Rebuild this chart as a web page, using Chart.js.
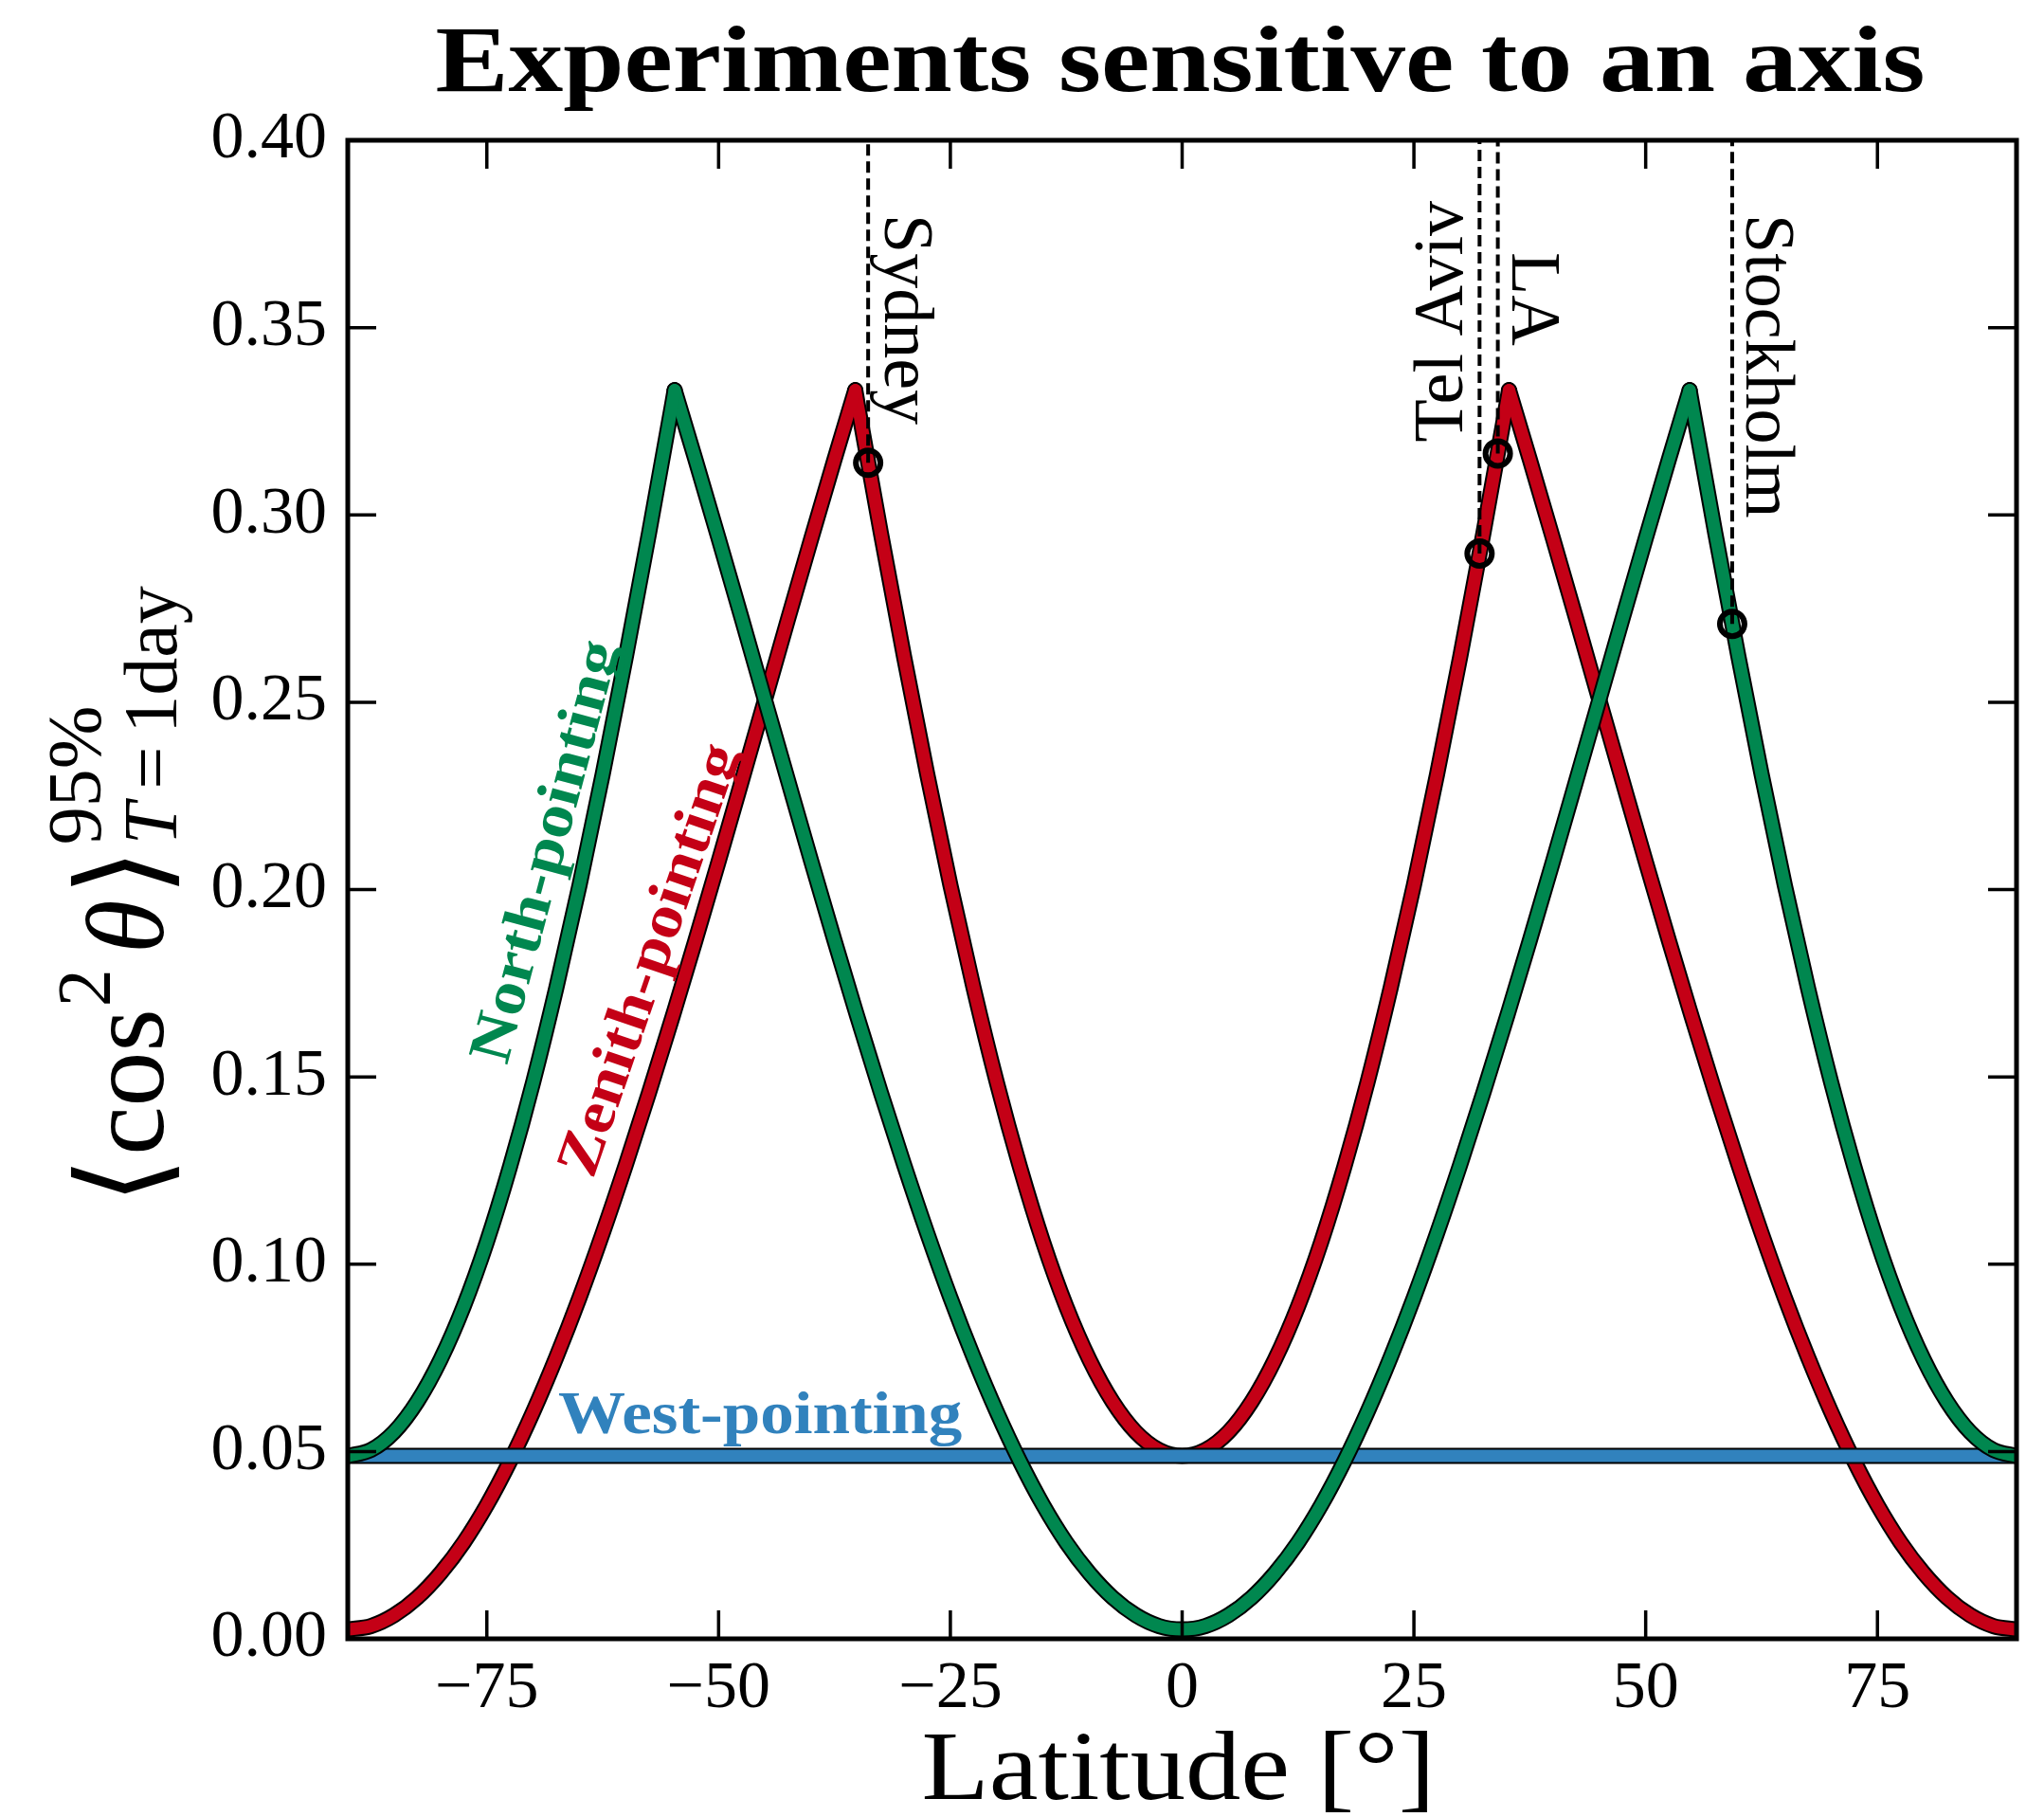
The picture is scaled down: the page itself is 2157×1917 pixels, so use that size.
<!DOCTYPE html>
<html>
<head>
<meta charset="utf-8">
<script src="https://cdn.jsdelivr.net/npm/chart.js@4.4.1/dist/chart.umd.min.js"></script>
<style>
html,body{margin:0;padding:0;background:#ffffff;}
#wrap{width:2157px;height:1917px;position:relative;}
canvas{display:block;}
</style>
</head>
<body>
<div id="wrap"><canvas id="c" width="2157" height="1917"></canvas></div>
<script>
// ---------------- data ----------------
const latitudes = [
  -90, -87.5, -85, -82.5, -80, -77.5, -75, -72.5, -70, -67.5, -65, -62.5, -60, -57.5, -55,
  -54.74,
  -52.5, -50, -47.5, -45, -42.5, -40, -37.5,
  -35.26,
  -35, -32.5, -30, -27.5, -25, -22.5, -20, -17.5, -15, -12.5, -10, -7.5, -5, -2.5, 0,
  2.5, 5, 7.5, 10, 12.5, 15, 17.5, 20, 22.5, 25, 27.5, 30, 32.5, 35,
  35.26,
  37.5, 40, 42.5, 45, 47.5, 50, 52.5,
  54.74,
  55, 57.5, 60, 62.5, 65, 67.5, 70, 72.5, 75, 77.5, 80, 82.5, 85, 87.5, 90
];
const zenithValues = [
  0.0025, 0.0034, 0.0063, 0.0110, 0.0175, 0.0257, 0.0357, 0.0474, 0.0606, 0.0752, 0.0911, 0.1083, 0.1266, 0.1458, 0.1658,
  0.1679,
  0.1864, 0.2075, 0.2290, 0.2506, 0.2723, 0.2937, 0.3148,
  0.3333,
  0.3296, 0.2952, 0.2622, 0.2308, 0.2012, 0.1738, 0.1486, 0.1260, 0.1059, 0.0887, 0.0745, 0.0633, 0.0552, 0.0504, 0.0488,
  0.0504, 0.0552, 0.0633, 0.0745, 0.0887, 0.1059, 0.1260, 0.1486, 0.1738, 0.2012, 0.2308, 0.2622, 0.2952, 0.3296,
  0.3333,
  0.3148, 0.2937, 0.2723, 0.2506, 0.2290, 0.2075, 0.1864,
  0.1679,
  0.1658, 0.1458, 0.1266, 0.1083, 0.0911, 0.0752, 0.0606, 0.0474, 0.0357, 0.0257, 0.0175, 0.0110, 0.0063, 0.0034, 0.0025
];
const northValues = [
  0.0488, 0.0504, 0.0552, 0.0633, 0.0745, 0.0887, 0.1059, 0.1260, 0.1486, 0.1738, 0.2012, 0.2308, 0.2622, 0.2952, 0.3296,
  0.3333,
  0.3148, 0.2937, 0.2723, 0.2506, 0.2290, 0.2075, 0.1864,
  0.1679,
  0.1658, 0.1458, 0.1266, 0.1083, 0.0911, 0.0752, 0.0606, 0.0474, 0.0357, 0.0257, 0.0175, 0.0110, 0.0063, 0.0034, 0.0025,
  0.0034, 0.0063, 0.0110, 0.0175, 0.0257, 0.0357, 0.0474, 0.0606, 0.0752, 0.0911, 0.1083, 0.1266, 0.1458, 0.1658,
  0.1679,
  0.1864, 0.2075, 0.2290, 0.2506, 0.2723, 0.2937, 0.3148,
  0.3333,
  0.3296, 0.2952, 0.2622, 0.2308, 0.2012, 0.1738, 0.1486, 0.1260, 0.1059, 0.0887, 0.0745, 0.0633, 0.0552, 0.0504, 0.0488
];
const westLatitudes = [-90, 90];
const westValues = [0.0488, 0.0488];

const cityNames = ['Sydney', 'Tel Aviv', 'LA', 'Stockholm'];
const cityLatitudes = [-33.87, 32.08, 34.05, 59.33];
const cityValues = [0.3139, 0.2897, 0.3164, 0.2709];
const cityLineTop = 0.40;

const xTicks = [-75, -50, -25, 0, 25, 50, 75];
const xTickLabels = ['\u221275', '\u221250', '\u221225', '0', '25', '50', '75'];
const yTicks = [0, 0.05, 0.10, 0.15, 0.20, 0.25, 0.30, 0.35, 0.40];
const yTickLabels = ['0.00', '0.05', '0.10', '0.15', '0.20', '0.25', '0.30', '0.35', '0.40'];

const titleText = 'Experiments sensitive to an axis';
const xTitleText = 'Latitude [\u00b0]';
const seriesNames = ['North-pointing', 'Zenith-pointing', 'West-pointing'];

// ---------------- styles ----------------
const GREEN = '#00874f';
const RED = '#c40016';
const BLUE = '#3182bd';
const SERIF = '"Liberation Serif", "DejaVu Serif", serif';

function pts(xs, ys) { return xs.map((x, i) => ({ x: x, y: ys[i] })); }

// split a curve at its sharp maxima so the smooth interpolation keeps the cusps
function splitAtPeaks(xs, ys) {
  const pieces = [];
  let start = 0;
  for (let i = 1; i < ys.length - 1; i++) {
    if (ys[i] > ys[i - 1] && ys[i] > ys[i + 1]) {
      pieces.push(pts(xs.slice(start, i + 1), ys.slice(start, i + 1)));
      start = i;
    }
  }
  pieces.push(pts(xs.slice(start), ys.slice(start)));
  return pieces;
}

function curveSets(name, xs, ys, color, orderTop) {
  const common = { showLine: true, pointRadius: 0, pointHoverRadius: 0,
                   cubicInterpolationMode: 'monotone',
                   borderJoinStyle: 'round', borderCapStyle: 'round', clip: 0, fill: false };
  const out = [];
  splitAtPeaks(xs, ys).forEach((p, k) => {
    out.push(Object.assign({ label: k === 0 ? name : name + ' (' + k + ')', data: p, borderColor: color,
                             backgroundColor: color, borderWidth: 13, order: orderTop }, common));
    out.push(Object.assign({ label: name + ' outline ' + k, data: p, borderColor: '#000000',
                             backgroundColor: '#000000', borderWidth: 17, order: orderTop + 1 }, common));
  });
  return out;
}

const datasets = [];
datasets.push({
  label: 'cities', data: pts(cityLatitudes, cityValues), showLine: false,
  pointRadius: 13, pointHoverRadius: 13, pointBorderWidth: 6, pointBorderColor: '#000000',
  pointBackgroundColor: 'rgba(0,0,0,0)', order: 0, clip: false
});
cityNames.forEach((n, i) => {
  datasets.push({
    label: n + ' line', data: [{ x: cityLatitudes[i], y: cityValues[i] }, { x: cityLatitudes[i], y: cityLineTop }],
    showLine: true, pointRadius: 0, borderColor: '#000000', borderWidth: 4, borderDash: [12, 6],
    order: 1, clip: 0
  });
});
datasets.push(...curveSets(seriesNames[0], latitudes, northValues, GREEN, 2));
datasets.push(...curveSets(seriesNames[2], westLatitudes, westValues, BLUE, 4));
datasets.push(...curveSets(seriesNames[1], latitudes, zenithValues, RED, 6));

// ---------------- drawing helpers ----------------
function textAt(ctx, text, x, y, opt) {
  ctx.save();
  ctx.font = opt.font;
  ctx.fillStyle = opt.color || '#000';
  ctx.textAlign = opt.align || 'left';
  ctx.textBaseline = opt.baseline || 'alphabetic';
  ctx.translate(x, y);
  if (opt.rotate) ctx.rotate(opt.rotate);
  if (opt.sx) ctx.scale(opt.sx, 1);
  ctx.fillText(text, 0, 0);
  ctx.restore();
}
function fitScale(ctx, text, font, targetW) {
  ctx.save(); ctx.font = font; const w = ctx.measureText(text).width; ctx.restore();
  return targetW / w;
}

function drawYLabel(ctx, baseX, centerY) {
  const mainF = '116px ' + SERIF;
  const itF = 'italic 116px ' + SERIF;
  const brF = '128px "DejaVu Serif", "DejaVu Sans", serif';
  const scF = '80px ' + SERIF;
  const scItF = 'italic 80px ' + SERIF;
  const seq = [
    { t: '\u27e8', f: brF, dy: 0, gap: 2 },
    { t: 'cos', f: mainF, dy: 0, gap: 2 },
    { t: '2', f: scF, dy: -56, gap: 16 },
    { t: '\u03b8', f: itF, dy: 0, gap: 4 },
    { t: '\u27e9', f: brF, dy: 0, gap: 4 }
  ];
  const sub = [
    { t: 'T', f: scItF, gap: 14 },
    { t: '=', f: scF, gap: 14 },
    { t: '1day', f: scF, gap: 0 }
  ];
  const sup = { t: '95%', f: scF };
  ctx.save();
  const w = (p) => { ctx.font = p.f; return ctx.measureText(p.t).width; };
  let total = 0;
  seq.forEach(p => { p.w = w(p); total += p.w + p.gap; });
  let subW = 0; sub.forEach(p => { p.w = w(p); subW += p.w + p.gap; });
  sup.w = w(sup);
  total += Math.max(subW, sup.w);
  ctx.translate(baseX, centerY + total / 2 + 6);
  ctx.rotate(-Math.PI / 2);
  ctx.fillStyle = '#000';
  ctx.textBaseline = 'alphabetic';
  ctx.textAlign = 'left';
  let pos = 0;
  seq.forEach(p => { ctx.font = p.f; ctx.fillText(p.t, pos, p.dy); pos += p.w + p.gap; });
  ctx.font = sup.f; ctx.fillText(sup.t, pos, -66);
  let sp = pos;
  sub.forEach(p => { ctx.font = p.f; ctx.fillText(p.t, sp, 14); sp += p.w + p.gap; });
  ctx.restore();
}

const decor = {
  id: 'decor',
  afterDatasetsDraw(chart) {
    const { ctx, chartArea: a, scales } = chart;
    const xs = scales.x, ys = scales.y;
    ctx.save();
    ctx.strokeStyle = '#000';
    ctx.lineWidth = 3.5;
    const L = 30;
    ctx.beginPath();
    xTicks.forEach(v => {
      const px = xs.getPixelForValue(v);
      ctx.moveTo(px, a.bottom); ctx.lineTo(px, a.bottom - L);
      ctx.moveTo(px, a.top); ctx.lineTo(px, a.top + L);
    });
    yTicks.forEach(v => {
      const py = ys.getPixelForValue(v);
      ctx.moveTo(a.left, py); ctx.lineTo(a.left + L, py);
      ctx.moveTo(a.right, py); ctx.lineTo(a.right - L, py);
    });
    ctx.stroke();
    ctx.lineWidth = 5;
    ctx.lineJoin = 'miter';
    ctx.strokeRect(a.left, a.top, a.right - a.left, a.bottom - a.top);
    ctx.restore();
  },
  afterDraw(chart) {
    const { ctx, chartArea: a, scales } = chart;
    const xs = scales.x, ys = scales.y;
    const cx = (a.left + a.right) / 2;
    // title
    const tf = 'bold 100px ' + SERIF;
    textAt(ctx, titleText, cx - 2, 96, { font: tf, align: 'center', sx: fitScale(ctx, titleText, tf, 1572) });
    // x axis title
    const xf = '104px ' + SERIF;
    textAt(ctx, xTitleText, cx - 4, 1898, { font: xf, align: 'center', sx: fitScale(ctx, xTitleText, xf, 542) });
    // y axis title
    drawYLabel(ctx, 172, (a.top + a.bottom) / 2);
    // curve labels
    const lf = 'bold 64px ' + SERIF;
    const lsx = 1.11;
    textAt(ctx, seriesNames[0], xs.getPixelForValue(-68.4), ys.getPixelForValue(0.210),
           { font: lf, color: GREEN, align: 'center', baseline: 'middle', rotate: -75 * Math.PI / 180, sx: lsx });
    textAt(ctx, seriesNames[1], xs.getPixelForValue(-57.2), ys.getPixelForValue(0.181),
           { font: lf, color: RED, align: 'center', baseline: 'middle', rotate: -71 * Math.PI / 180, sx: lsx });
    textAt(ctx, seriesNames[2], xs.getPixelForValue(-67.3), ys.getPixelForValue(0.055),
           { font: lf, color: BLUE, align: 'left', baseline: 'alphabetic', sx: lsx });
    // city labels
    const cf = '74px ' + SERIF;
    const cityLayout = [
      { dx: 18, y: 226, rot: 90, align: 'left' },
      { dx: -18, y: 212, rot: -90, align: 'right' },
      { dx: 15, y: 266, rot: 90, align: 'left' },
      { dx: 15, y: 226, rot: 90, align: 'left' }
    ];
    cityNames.forEach((n, i) => {
      const lx = xs.getPixelForValue(cityLatitudes[i]);
      const c = cityLayout[i];
      textAt(ctx, n, lx + c.dx, c.y, { font: cf, align: c.align, baseline: 'alphabetic', rotate: c.rot * Math.PI / 180 });
    });
  }
};

new Chart(document.getElementById('c'), {
  type: 'scatter',
  data: { datasets: datasets },
  options: {
    responsive: false,
    animation: false,
    devicePixelRatio: 1,
    layout: { padding: { left: 0, right: 29, top: 148, bottom: 0 } },
    plugins: { legend: { display: false }, tooltip: { enabled: false }, title: { display: false } },
    scales: {
      x: {
        type: 'linear', min: -90, max: 90,
        afterBuildTicks: (s) => { s.ticks = xTicks.map(v => ({ value: v })); },
        afterFit: (s) => { s.height = 188; },
        grid: { display: false, drawTicks: false },
        border: { display: false },
        ticks: { padding: 12, color: '#000', autoSkip: false, maxRotation: 0,
                 font: { family: SERIF, size: 70 },
                 callback: (v, i) => xTickLabels[i] }
      },
      y: {
        type: 'linear', min: 0, max: 0.4,
        afterBuildTicks: (s) => { s.ticks = yTicks.map(v => ({ value: v })); },
        afterFit: (s) => { s.width = 367; },
        grid: { display: false, drawTicks: false },
        border: { display: false },
        ticks: { padding: 22, color: '#000', autoSkip: false,
                 font: { family: SERIF, size: 70 },
                 callback: (v, i) => yTickLabels[i] }
      }
    }
  },
  plugins: [decor]
});
</script>
</body>
</html>
